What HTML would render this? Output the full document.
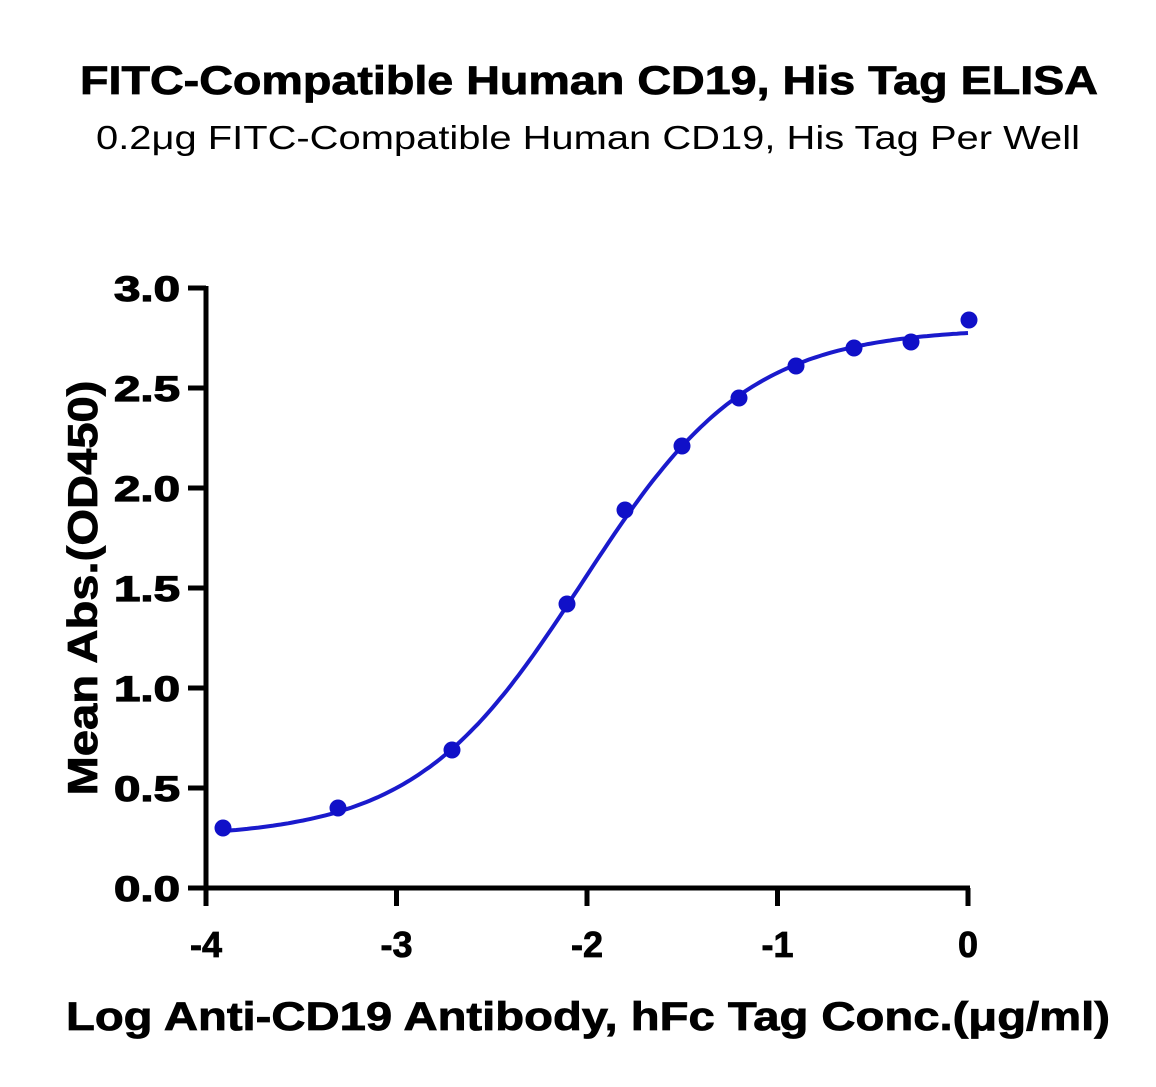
<!DOCTYPE html>
<html><head><meta charset="utf-8"><style>html,body{margin:0;padding:0;background:#fff}svg{display:block}</style></head>
<body>
<svg width="1156" height="1087" xmlns="http://www.w3.org/2000/svg" font-family="Liberation Sans, sans-serif">
<text x="589" y="94" font-size="40" font-weight="bold" text-anchor="middle" textLength="1018" lengthAdjust="spacingAndGlyphs" stroke="#000" stroke-width="0.8">FITC-Compatible Human CD19, His Tag ELISA</text>
<text x="588" y="149" font-size="33" text-anchor="middle" textLength="984" lengthAdjust="spacingAndGlyphs">0.2μg FITC-Compatible Human CD19, His Tag Per Well</text>
<g stroke="#000" stroke-width="5" fill="none">
<line x1="206" y1="286" x2="206" y2="906"/>
<line x1="188" y1="888" x2="970" y2="888"/>
<line x1="188" y1="288" x2="206" y2="288"/>
<line x1="188" y1="388" x2="206" y2="388"/>
<line x1="188" y1="488" x2="206" y2="488"/>
<line x1="188" y1="588" x2="206" y2="588"/>
<line x1="188" y1="688" x2="206" y2="688"/>
<line x1="188" y1="788" x2="206" y2="788"/>
<line x1="396.5" y1="888" x2="396.5" y2="906"/>
<line x1="587" y1="888" x2="587" y2="906"/>
<line x1="777.5" y1="888" x2="777.5" y2="906"/>
<line x1="968" y1="888" x2="968" y2="906"/>
</g>
<g font-size="35" font-weight="bold" text-anchor="end" stroke="#000" stroke-width="1.2">
<text x="180" y="301" textLength="66" lengthAdjust="spacingAndGlyphs">3.0</text>
<text x="180" y="401" textLength="66" lengthAdjust="spacingAndGlyphs">2.5</text>
<text x="180" y="501" textLength="66" lengthAdjust="spacingAndGlyphs">2.0</text>
<text x="180" y="601" textLength="66" lengthAdjust="spacingAndGlyphs">1.5</text>
<text x="180" y="701" textLength="66" lengthAdjust="spacingAndGlyphs">1.0</text>
<text x="180" y="801" textLength="66" lengthAdjust="spacingAndGlyphs">0.5</text>
<text x="180" y="901" textLength="66" lengthAdjust="spacingAndGlyphs">0.0</text>
</g>
<g font-size="36" font-weight="bold" text-anchor="middle" stroke="#000" stroke-width="0.8">
<text x="206" y="957">-4</text>
<text x="396.5" y="957">-3</text>
<text x="587" y="957">-2</text>
<text x="777.5" y="957">-1</text>
<text x="968" y="957">0</text>
</g>
<text x="588" y="1030" font-size="40" font-weight="bold" text-anchor="middle" textLength="1044" lengthAdjust="spacingAndGlyphs" stroke="#000" stroke-width="0.8">Log Anti-CD19 Antibody, hFc Tag Conc.(μg/ml)</text>
<text transform="translate(97,588) rotate(-90)" font-size="42" font-weight="bold" text-anchor="middle" textLength="415" lengthAdjust="spacingAndGlyphs" stroke="#000" stroke-width="0.8">Mean Abs.(OD450)</text>
<path id="c" fill="none" stroke="#1a1acc" stroke-width="4"/>
<g fill="#1010c8">
<circle cx="223" cy="828" r="8.5"/>
<circle cx="338" cy="808" r="8.5"/>
<circle cx="452" cy="750" r="8.5"/>
<circle cx="567" cy="604" r="8.5"/>
<circle cx="625" cy="510" r="8.5"/>
<circle cx="682" cy="446" r="8.5"/>
<circle cx="739" cy="398" r="8.5"/>
<circle cx="796" cy="366" r="8.5"/>
<circle cx="854" cy="348" r="8.5"/>
<circle cx="911" cy="342" r="8.5"/>
<circle cx="969" cy="320" r="8.5"/>
</g>
<script>
(function(){
var B=0.25,T=2.8,c=-2.027,h=0.99;
function X(x){return 206+(x+4)*190.5;}function Y(y){return 888-y*200;}
var d="";for(var i=0;i<=200;i++){var x=-3.9+3.9*i/200;var y=B+(T-B)/(1+Math.pow(10,(c-x)*h));d+=(i?"L":"M")+X(x).toFixed(1)+","+Y(y).toFixed(1);}
document.getElementById("c").setAttribute("d",d);
})();
</script>
</svg>
</body></html>
